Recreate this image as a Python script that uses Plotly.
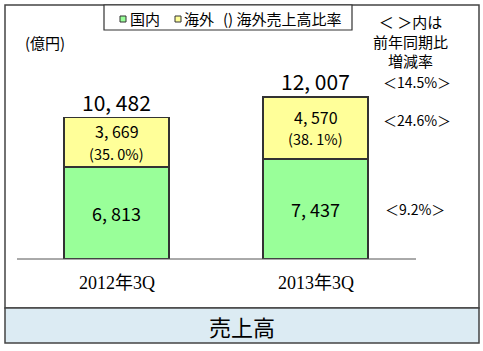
import plotly.graph_objects as go

categories = ["2012年3Q", "2013年3Q"]
domestic = [6813, 7437]
overseas = [3669, 4570]
overseas_ratio = [35.0, 38.1]
totals = [10482, 12007]
yoy_total = "14.5%"
yoy_overseas = "24.6%"
yoy_domestic = "9.2%"

W, H = 483, 351
def px(x):
    return x / W
def py(y):
    return 1 - y / H

def fmt(v):
    return "{:,}".format(v).replace(",", ", ")

JP = "Noto Sans CJK JP"
SERIF = "Liberation Serif, Noto Sans CJK JP"
GREEN = "#99FF99"
YELLOW = "#FFFF99"
EDGE = "#333333"

fig = go.Figure()
fig.add_trace(go.Bar(x=categories, y=domestic, width=0.528,
                     marker=dict(color=GREEN, line=dict(color=EDGE, width=1.5)),
                     hoverinfo="skip", showlegend=False))
fig.add_trace(go.Bar(x=categories, y=overseas, width=0.528,
                     marker=dict(color=YELLOW, line=dict(color=EDGE, width=1.5)),
                     hoverinfo="skip", showlegend=False))

def A(**kw):
    d = dict(showarrow=False, xanchor="center", yanchor="middle", borderpad=0)
    d.update(kw)
    return d

ann = []
for i, c in enumerate(categories):
    ann.append(A(x=c, y=totals[i], xref="x", yref="y", text=fmt(totals[i]),
                 yshift=16, font=dict(family=JP, size=21, color="#000")))
    ymid = domestic[i] + overseas[i] / 2
    ratio_txt = "(" + ("%.1f" % overseas_ratio[i]).replace(".", ". ") + "%)"
    ann.append(A(x=c, y=ymid, xref="x", yref="y", text=fmt(overseas[i]),
                 yshift=11, font=dict(family=JP, size=16, color="#000")))
    ann.append(A(x=c, y=ymid, xref="x", yref="y", text=ratio_txt,
                 yshift=-11, font=dict(family=JP, size=14.5, color="#000")))
    ann.append(A(x=c, y=domestic[i] / 2, xref="x", yref="y", text=fmt(domestic[i]),
                 font=dict(family=JP, size=18, color="#000")))
    ann.append(A(x=c, y=py(283), xref="x", yref="paper", text=c,
                 font=dict(family=SERIF, size=18, color="#000")))

ann.append(A(x=px(417), y=totals[1], xref="paper", yref="y", text="＜" + yoy_total + "＞",
             yshift=15, font=dict(family=JP, size=14, color="#000")))
ann.append(A(x=px(417), y=domestic[1] + overseas[1] / 2, xref="paper", yref="y",
             text="＜" + yoy_overseas + "＞", yshift=8,
             font=dict(family=JP, size=14, color="#000")))
ann.append(A(x=px(415), y=domestic[1] / 2, xref="paper", yref="y",
             text="＜" + yoy_domestic + "＞",
             font=dict(family=JP, size=14, color="#000")))

ann.append(A(x=px(410), y=py(41), xref="paper", yref="paper",
             text="＜ ＞内は<br>前年同期比<br>増減率",
             font=dict(family=JP, size=15, color="#000")))
ann.append(A(x=px(45), y=py(43), xref="paper", yref="paper", text="(億円)",
             font=dict(family=JP, size=15, color="#000")))

ann.append(A(x=px(129), y=py(18), xref="paper", yref="paper", text="国内",
             xanchor="left", font=dict(family=JP, size=15, color="#000")))
ann.append(A(x=px(183), y=py(18), xref="paper", yref="paper", text="海外",
             xanchor="left", font=dict(family=JP, size=15, color="#000")))
ann.append(A(x=px(222), y=py(18), xref="paper", yref="paper", text="() 海外売上高比率",
             xanchor="left", font=dict(family=JP, size=15, color="#000")))

ann.append(A(x=px(242), y=py(326), xref="paper", yref="paper", text="売上高",
             font=dict(family=JP, size=22, color="#000")))

shapes = [
    dict(type="rect", xref="paper", yref="paper", x0=px(5), x1=px(479), y0=py(308), y1=py(5),
         line=dict(color="#444", width=1.5), fillcolor="rgba(0,0,0,0)", layer="below"),
    dict(type="rect", xref="paper", yref="paper", x0=px(5), x1=px(479), y0=py(343), y1=py(308),
         line=dict(color="#444", width=1.5), fillcolor="#DCEBF3"),
    dict(type="rect", xref="paper", yref="paper", x0=px(104), x1=px(352), y0=py(30), y1=py(5),
         line=dict(color="#333", width=1.2), fillcolor="white"),
    dict(type="rect", xref="paper", yref="paper", x0=px(120), x1=px(126), y0=py(22), y1=py(16),
         line=dict(color="#333", width=1), fillcolor=GREEN),
    dict(type="rect", xref="paper", yref="paper", x0=px(175), x1=px(181), y0=py(22), y1=py(16),
         line=dict(color="#333", width=1), fillcolor=YELLOW),
    dict(type="line", xref="paper", yref="paper", x0=px(17), x1=px(416), y0=py(259), y1=py(259),
         line=dict(color="#555", width=1)),
]

fig.update_layout(
    width=W, height=H, autosize=False,
    margin=dict(l=0, r=0, t=0, b=0),
    paper_bgcolor="white", plot_bgcolor="white",
    barmode="stack",
    xaxis=dict(type="category", range=[-0.5854, 1.8417], domain=[0, 1],
               showgrid=False, showticklabels=False, zeroline=False, showline=False, ticks=""),
    yaxis=dict(range=[0, 259 * 74.2], domain=[92 / H, 1],
               showgrid=False, showticklabels=False, zeroline=False, showline=False, ticks=""),
    annotations=ann, shapes=shapes, showlegend=False,
)

fig.write_html("out.html")
